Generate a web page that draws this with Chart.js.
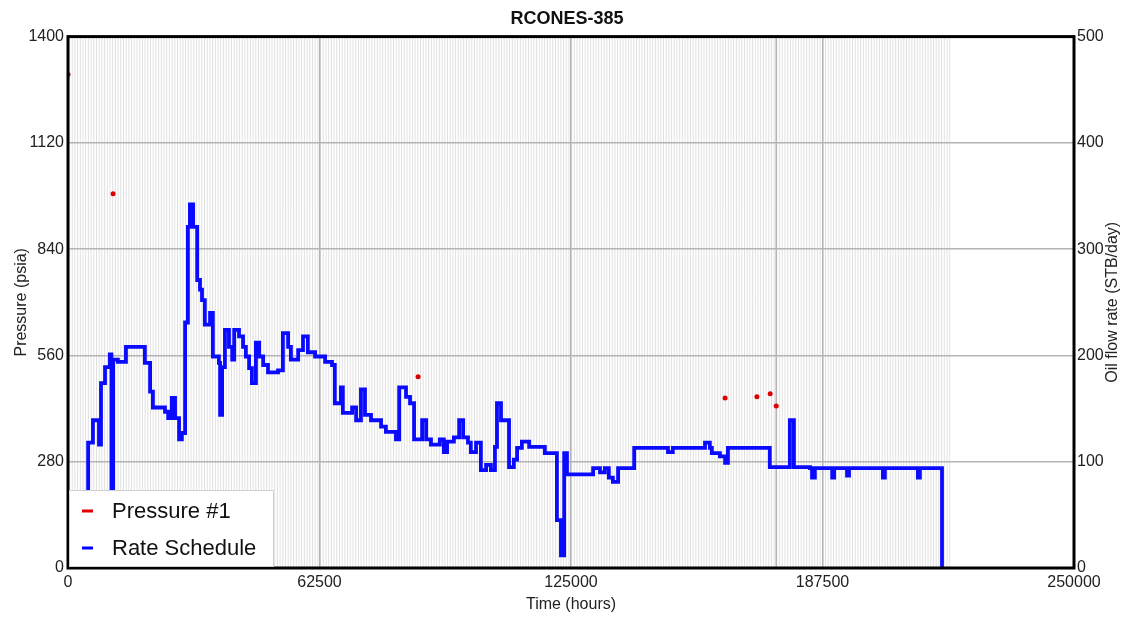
<!DOCTYPE html>
<html>
<head>
<meta charset="utf-8">
<script src="https://cdn.jsdelivr.net/npm/chart.js@4"></script>
<style>
  body { margin: 0; background: #fff; }
  #wrap { width: 1134px; height: 618px; }
</style>
</head>
<body>
<div id="wrap"><canvas id="chart"></canvas></div>
<script>
const FONT = '"Liberation Sans", Arial, sans-serif'
Chart.defaults.font.family = FONT
Chart.defaults.color = '#222'

// rate schedule, each value holds from its time until the next one
const rateTime = [
    0, 5000, 6200, 7700, 8200, 9200, 10400, 10800, 11200, 12400,
    14400, 19100, 20400, 21100, 24100, 24900, 25800, 26600, 27600, 28300,
    29100, 29800, 30300, 31100, 32100, 32800, 33300, 34000, 35300, 36000,
    37500, 37800, 38300, 39000, 40000, 40800, 41300, 42500, 43500, 44200,
    45000, 45700, 46700, 47500, 48500, 49700, 52200, 53400, 54700, 55400,
    57200, 58400, 59600, 61400, 63900, 65600, 66300, 67800, 68300, 70600,
    71600, 72800, 73800, 75300, 77800, 79000, 81500, 82300, 84000, 85000,
    86000, 88000, 89000, 90200, 92400, 93400, 94200, 95900, 97200, 98200,
    99400, 100100, 101400, 102600, 103900, 105100, 106100, 106600, 107600, 109600,
    110800, 111600, 112800, 114600, 118500, 121500, 122500, 123300, 124000, 130500,
    132200, 133400, 134400, 135400, 136700, 140700, 149100, 150300, 158300, 159500,
    160000, 162000, 163300, 164000, 174400, 179400, 180400, 184400, 184900, 185600,
    189900, 190400, 193600, 194100, 202500, 203000, 211200, 211700, 217200, 217700
]
const rateValue = [
    0, 118, 139, 116, 174, 189, 201, 0, 196, 194,
    208, 193, 166, 151, 147, 141, 160, 141, 121, 127,
    231, 321, 342, 321, 271, 262, 252, 229, 240, 199,
    193, 144, 189, 224, 208, 196, 224, 218, 208, 199,
    188, 174, 212, 199, 191, 184, 186, 221, 208, 196,
    205, 218, 203, 199, 194, 191, 155, 170, 146, 151,
    139, 168, 144, 139, 133, 128, 121, 170, 161, 155,
    121, 139, 121, 116, 121, 109, 119, 123, 139, 123,
    118, 109, 118, 92, 97, 92, 114, 155, 139, 95,
    102, 113, 119, 114, 108, 45, 12, 108, 88, 94,
    90, 94, 85, 81, 94, 113, 109, 113, 118, 113,
    108, 105, 99, 113, 95, 139, 95, 94, 85, 94,
    85, 94, 87, 94, 85, 94, 85, 94, 0, 0
]

const pressureTime = [0, 11200, 87000, 163300, 171200, 174500, 176000]
const pressureValue = [1300, 986, 504, 448, 451, 459, 427]

const dataEnd = 219200
const extraGridTime = 176000

const rateSchedule = rateTime.map((t, i) => ({ x: t, y: rateValue[i] }))
const pressure = pressureTime.map((t, i) => ({ x: t, y: pressureValue[i] }))

const plain = v => String(v)

const backdrop = {
    id: 'backdrop',
    beforeDraw(chart) {
        const { ctx, chartArea: a, scales: { x } } = chart
        ctx.save()
        ctx.fillStyle = '#fff'
        ctx.fillRect(0, 0, chart.width, chart.height)
        ctx.strokeStyle = 'rgba(0,0,0,0.12)'
        ctx.lineWidth = 1
        const end = x.getPixelForValue(dataEnd)
        ctx.beginPath()
        for (let px = a.left + 1.5; px < end; px += 2.7) {
            ctx.moveTo(px, a.top)
            ctx.lineTo(px, a.bottom)
        }
        ctx.stroke()
        const gx = x.getPixelForValue(extraGridTime)
        ctx.strokeStyle = '#b4b4b4'
        ctx.lineWidth = 1.5
        ctx.beginPath()
        ctx.moveTo(gx, a.top)
        ctx.lineTo(gx, a.bottom)
        ctx.stroke()
        ctx.restore()
    },
    afterDraw(chart) {
        const { ctx, chartArea: a } = chart
        ctx.save()
        // frame
        ctx.strokeStyle = '#000'
        ctx.lineWidth = 3
        ctx.strokeRect(a.left, a.top, a.right - a.left, a.bottom - a.top)

        // right axis title, reads bottom to top like the left one
        ctx.fillStyle = '#222'
        ctx.font = '16px ' + FONT
        ctx.textAlign = 'center'
        ctx.textBaseline = 'middle'
        ctx.translate(1113, (a.top + a.bottom) / 2)
        ctx.rotate(-Math.PI / 2)
        ctx.fillText('Oil flow rate (STB/day)', 0, 0)
        ctx.restore()

        // legend box
        ctx.save()
        const lx = a.left, ly = 490
        ctx.fillStyle = '#fff'
        ctx.fillRect(lx + 1, ly, 204, a.bottom - ly - 1)
        ctx.strokeStyle = '#cfcfcf'
        ctx.lineWidth = 1
        ctx.strokeRect(lx + 1.5, ly + 0.5, 204, a.bottom - ly - 2)
        ctx.font = '22px ' + FONT
        ctx.textAlign = 'left'
        ctx.textBaseline = 'middle'
        const items = [['Pressure #1', '#e00000', 511], ['Rate Schedule', '#0000ff', 548]]
        items.forEach(([label, color, y]) => {
            ctx.fillStyle = color
            ctx.fillRect(lx + 14, y - 1.5, 11, 3)
            ctx.fillStyle = '#111'
            ctx.fillText(label, lx + 44, y + 1)
        })
        ctx.restore()
    }
}

new Chart('chart', {
    type: 'line',
    data: {
        datasets: [{
            label: 'Pressure #1',
            data: pressure,
            yAxisID: 'y',
            showLine: false,
            pointRadius: 2.5,
            pointBackgroundColor: '#e00000',
            pointBorderWidth: 0
        }, {
            label: 'Rate Schedule',
            data: rateSchedule,
            yAxisID: 'y1',
            stepped: true,
            borderColor: '#0a0aff',
            borderWidth: 3.8,
            pointRadius: 0,
            fill: false
        }]
    },
    options: {
        responsive: true,
        maintainAspectRatio: false,
        animation: false,
        layout: { padding: 0 },
        plugins: {
            legend: { display: false },
            tooltip: { enabled: false },
            title: {
                display: true,
                text: 'RCONES-385',
                color: '#111',
                font: { size: 18, weight: 'bold' },
                padding: { top: 8, bottom: 7 }
            }
        },
        scales: {
            x: {
                type: 'linear',
                min: 0,
                max: 250000,
                ticks: { stepSize: 62500, padding: 5, maxRotation: 0, autoSkip: false, font: { size: 16 }, callback: plain },
                grid: { color: '#b4b4b4', lineWidth: 1.5, drawTicks: false },
                border: { display: false },
                title: { display: true, text: 'Time (hours)', font: { size: 16 }, padding: { top: 0, bottom: 4 } },
                afterFit: s => { s.height = 50 }
            },
            y: {
                position: 'left',
                min: 0,
                max: 1400,
                ticks: { stepSize: 280, padding: 4, font: { size: 16 }, callback: plain },
                grid: { color: '#b4b4b4', lineWidth: 1.5, drawTicks: false },
                border: { display: false },
                title: { display: true, text: 'Pressure (psia)', font: { size: 16 }, padding: { top: 12, bottom: 0 } },
                afterFit: s => { s.width = 68 }
            },
            y1: {
                position: 'right',
                min: 0,
                max: 500,
                ticks: { stepSize: 100, padding: 3, font: { size: 16 }, callback: plain },
                grid: { drawOnChartArea: false, drawTicks: false },
                border: { display: false },
                afterFit: s => { s.width = 60 }
            }
        }
    },
    plugins: [backdrop]
})
</script>
</body>
</html>
